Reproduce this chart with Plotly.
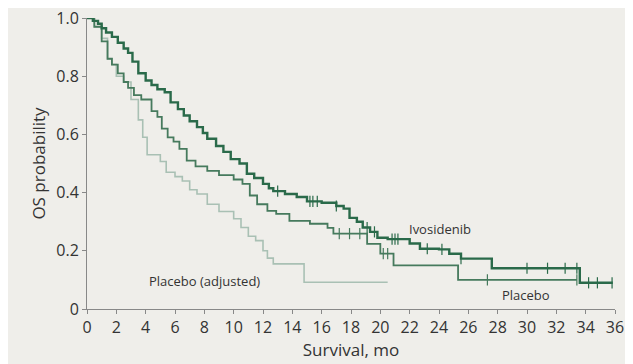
import numpy as np
import plotly.graph_objects as go

# ---- data ----
ivo_t = [0, 0.4, 0.75, 1.0, 1.3, 1.7, 2.1, 2.5, 2.8, 3.1, 3.5, 4.0, 4.4, 4.8, 5.3, 5.7, 6.2, 6.6,
         7.0, 7.5, 7.9, 8.2, 8.8, 9.3, 9.8, 10.4, 10.9, 11.4, 12.0, 12.4, 12.7, 13.5, 14.3, 15.0,
         16.0, 17.0, 17.5, 17.9, 18.4, 18.8, 19.3, 19.8, 20.5, 22.0, 22.7, 24.0, 24.7, 25.5,
         27.6, 33.6, 35.85]
ivo_s = [1.0, 0.99, 0.98, 0.965, 0.95, 0.935, 0.915, 0.895, 0.88, 0.85, 0.81, 0.785, 0.77, 0.755,
         0.745, 0.71, 0.687, 0.665, 0.645, 0.625, 0.605, 0.585, 0.56, 0.54, 0.515, 0.50, 0.465,
         0.45, 0.43, 0.415, 0.405, 0.395, 0.385, 0.37, 0.365, 0.354, 0.345, 0.313, 0.30, 0.28,
         0.265, 0.245, 0.24, 0.225, 0.207, 0.205, 0.19, 0.173, 0.14, 0.09, 0.09]
ivo_cens = [13.0, 15.2, 15.4, 15.7, 17.0, 19.1, 19.6, 20.8, 21.0, 21.2, 23.2, 24.2, 25.5,
            30.0, 31.4, 32.6, 33.4, 34.2, 34.8, 35.8]

pla_t = [0, 0.5, 1.0, 1.4, 1.7, 2.1, 2.5, 2.8, 3.2, 3.7, 4.4, 4.8, 5.1, 5.5, 5.9, 6.3, 6.8, 7.4,
         8.2, 9.0, 10.0, 10.6, 11.1, 11.6, 12.3, 12.9, 13.8, 15.2, 16.4, 16.8, 19.1, 20.0,
         20.9, 25.3, 33.4]
pla_s = [1.0, 0.97, 0.92, 0.86, 0.84, 0.81, 0.78, 0.76, 0.735, 0.72, 0.68, 0.66, 0.62, 0.59,
         0.575, 0.55, 0.51, 0.49, 0.475, 0.46, 0.445, 0.43, 0.39, 0.36, 0.337, 0.327, 0.303,
         0.293, 0.279, 0.259, 0.224, 0.19, 0.15, 0.10, 0.10]
pla_cens = [17.2, 17.9, 18.6, 20.2, 20.5, 27.3, 33.4]

adj_t = [0, 0.5, 1.0, 1.4, 1.7, 2.0, 2.5, 3.0, 3.5, 3.8, 4.1, 5.0, 5.4, 6.0, 6.5, 7.0, 7.5, 8.2,
         9.0, 10.0, 10.5, 11.0, 11.5, 12.0, 12.3, 12.7, 14.8, 20.5]
adj_s = [1.0, 0.97, 0.93, 0.86, 0.84, 0.80, 0.78, 0.72, 0.65, 0.59, 0.53, 0.507, 0.47, 0.455,
         0.44, 0.41, 0.395, 0.36, 0.335, 0.31, 0.28, 0.25, 0.235, 0.20, 0.175, 0.155, 0.092,
         0.092]

x_ticks = list(range(0, 37, 2))
y_ticks = [0, 0.2, 0.4, 0.6, 0.8, 1.0]
y_tick_text = ["0", "0.2", "0.4", "0.6", "0.8", "1.0"]

labels = [("Ivosidenib", 24.1, 0.276), ("Placebo (adjusted)", 8.0, 0.095), ("Placebo", 29.9, 0.048)]

# ---- styling ----
BG = "#efeeea"
IVO = "#2a6a4a"
PLA = "#467a5d"
ADJ = "#a9c0b4"
TXT = "#333333"
FONT = "Open Sans, Noto Sans, sans-serif"


def step_at(ts, ss, x):
    idx = np.searchsorted(np.array(ts), np.array(x), side="right") - 1
    return list(np.array(ss)[idx])


fig = go.Figure()
fig.add_trace(go.Scatter(x=adj_t, y=adj_s, mode="lines", line=dict(color=ADJ, width=1.6, shape="hv"),
                         hoverinfo="skip", cliponaxis=False))
fig.add_trace(go.Scatter(x=pla_t, y=pla_s, mode="lines", line=dict(color=PLA, width=1.8, shape="hv"),
                         hoverinfo="skip", cliponaxis=False))
fig.add_trace(go.Scatter(x=ivo_t, y=ivo_s, mode="lines", line=dict(color=IVO, width=2.4, shape="hv"),
                         hoverinfo="skip", cliponaxis=False))
fig.add_trace(go.Scatter(x=pla_cens, y=step_at(pla_t, pla_s, pla_cens), mode="markers",
                         marker=dict(symbol="line-ns", size=8, line=dict(color=PLA, width=1.2)),
                         hoverinfo="skip", cliponaxis=False))
fig.add_trace(go.Scatter(x=ivo_cens, y=step_at(ivo_t, ivo_s, ivo_cens), mode="markers",
                         marker=dict(symbol="line-ns", size=8, line=dict(color=IVO, width=1.2)),
                         hoverinfo="skip", cliponaxis=False))

for text, x, y in labels:
    fig.add_annotation(x=x, y=y, text=text, showarrow=False,
                       font=dict(family=FONT, size=13, color=TXT))

# the page body has an 8px margin, so the figure is sized to fit the window
fig.update_layout(
    width=625, height=356,
    margin=dict(l=79, r=18, t=10, b=55),
    paper_bgcolor=BG, plot_bgcolor=BG,
    showlegend=False,
    font=dict(family=FONT, color=TXT, size=16),
)
fig.update_xaxes(range=[0, 36], tickvals=x_ticks, ticks="outside", ticklen=4, tickcolor="#888",
                 showline=True, linecolor="#888", linewidth=1, showgrid=False, zeroline=False,
                 automargin=False, ticklabeloverflow="allow", tickfont=dict(size=16, color=TXT),
                 title=dict(text="Survival, mo", font=dict(size=17, color=TXT), standoff=2))
fig.update_yaxes(range=[0, 1.0], tickvals=y_ticks, ticktext=y_tick_text, ticks="outside", ticklen=4,
                 tickcolor="#888", showline=True, linecolor="#888", linewidth=1, showgrid=False,
                 zeroline=False, automargin=False, ticklabeloverflow="allow",
                 tickfont=dict(size=16, color=TXT),
                 title=dict(text="OS probability", font=dict(size=17, color=TXT), standoff=6))

fig.write_html("out.html")
